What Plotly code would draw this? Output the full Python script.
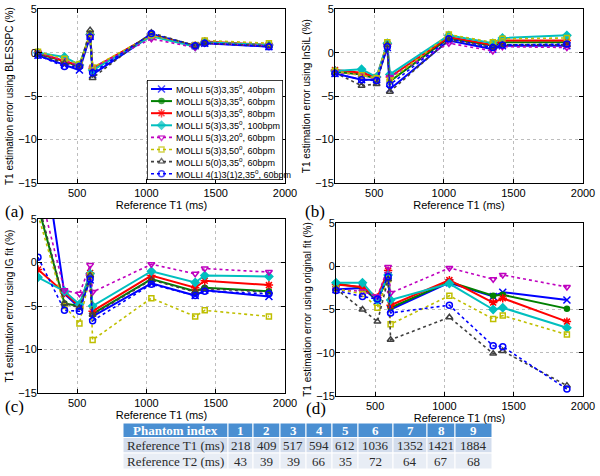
import plotly.graph_objects as go

# ---------------- data ----------------
T1_ref = [218, 409, 517, 594, 612, 1036, 1352, 1421, 1884]
T2_ref = [43, 39, 39, 66, 35, 72, 64, 67, 68]
phantom_index = [1, 2, 3, 4, 5, 6, 7, 8, 9]
table_row_labels = ["Reference T1 (ms)", "Reference T2 (ms)"]
table_header_label = "Phantom index"

series_names = [
    "MOLLI 5(3)3,35<sup>o</sup>, 40bpm",
    "MOLLI 5(3)3,35<sup>o</sup>, 60bpm",
    "MOLLI 5(3)3,35<sup>o</sup>, 80bpm",
    "MOLLI 5(3)3,35<sup>o</sup>, 100bpm",
    "MOLLI 5(3)3,20<sup>o</sup>, 60bpm",
    "MOLLI 5(3)3,50<sup>o</sup>, 60bpm",
    "MOLLI 5(0)3,35<sup>o</sup>, 60bpm",
    "MOLLI 4(1)3(1)2,35<sup>o</sup>, 60bpm",
]

# (a) BLESSPC
err_blesspc = [
    [-0.3, -1.4, -2.0, 1.9, -2.5, 2.0, 0.8, 1.1, 0.7],
    [-0.1, -1.0, -1.6, 2.0, -2.0, 2.1, 0.8, 1.2, 0.8],
    [0.0, -1.0, -1.5, 2.1, -1.8, 2.0, 0.8, 1.3, 0.9],
    [0.0, -0.5, -1.4, 2.1, -2.0, 1.9, 0.7, 1.2, 0.9],
    [0.0, -0.9, -1.5, 1.9, -1.7, 1.6, 0.6, 1.1, 0.8],
    [0.1, -0.7, -1.3, 2.2, -1.7, 2.0, 0.9, 1.4, 1.1],
    [-0.2, -1.2, -1.6, 2.6, -2.9, 2.3, 0.8, 1.1, 0.8],
    [-0.3, -1.6, -1.6, 1.8, -2.3, 2.2, 0.8, 1.1, 0.7],
]
# (b) InSiL
err_insil = [
    [-2.4, -3.1, -3.1, 0.6, -4.2, 1.4, 0.4, 0.8, 0.8],
    [-2.2, -2.5, -3.0, 0.9, -3.3, 1.7, 0.8, 1.2, 1.2],
    [-2.0, -2.3, -2.8, 1.0, -2.8, 1.8, 0.9, 1.4, 1.4],
    [-2.1, -1.9, -2.8, 1.1, -2.5, 2.0, 1.1, 1.7, 2.0],
    [-2.2, -2.6, -3.0, 0.8, -2.8, 1.1, 0.2, 0.7, 0.6],
    [-2.1, -2.6, -2.9, 1.2, -3.2, 2.1, 1.2, 1.6, 1.7],
    [-2.3, -3.8, -3.6, 0.9, -4.5, 1.5, 0.6, 0.9, 0.9],
    [-2.4, -3.1, -3.2, 0.7, -3.7, 1.6, 0.6, 0.9, 1.0],
]
# (c) IG fit
err_igfit = [
    [17.0, -3.6, -5.2, -2.0, -6.2, -2.4, -3.8, -3.2, -3.9],
    [6.5, -4.7, -5.0, -1.5, -5.9, -1.9, -3.3, -2.9, -3.3],
    [-0.8, -3.5, -5.0, -1.2, -5.6, -1.5, -2.9, -2.1, -2.6],
    [-1.7, -3.3, -4.8, -1.3, -5.0, -1.0, -2.3, -1.5, -1.6],
    [9.0, -3.2, -3.6, -0.3, -3.4, -0.2, -1.3, -0.7, -1.1],
    [5.5, -5.0, -7.0, -1.5, -8.9, -4.1, -6.2, -5.5, -6.2],
    [7.0, -4.7, -5.2, -1.5, -6.0, -2.0, -3.4, -3.0, -3.4],
    [0.6, -5.5, -5.6, -1.9, -6.7, -2.5, -3.8, -3.3, -3.6],
]
# (d) original fit
err_original = [
    [-2.7, -2.5, -4.0, -1.1, -5.0, -1.9, -3.5, -3.0, -3.9],
    [-2.0, -2.5, -3.8, -1.3, -4.8, -1.8, -3.4, -3.3, -4.9],
    [-2.1, -2.4, -3.6, -0.5, -4.5, -1.6, -4.2, -3.7, -6.4],
    [-1.9, -1.9, -3.9, -1.0, -3.9, -2.0, -5.0, -4.8, -7.1],
    [-2.7, -2.9, -3.5, -0.1, -3.1, -0.2, -1.5, -1.0, -2.4],
    [-2.6, -3.2, -4.8, -1.5, -6.7, -3.4, -6.1, -5.7, -7.9],
    [-2.6, -5.0, -6.4, -1.5, -8.5, -5.9, -10.1, -9.8, -13.8],
    [-2.8, -3.5, -3.8, -1.2, -5.4, -4.5, -9.2, -9.3, -14.2],
]

panel_data = [err_blesspc, err_insil, err_igfit, err_original]
panel_ytitles = [
    "T1 estimation error using BLESSPC (%)",
    "T1 estimation error using InSiL (%)",
    "T1 estimation error using IG fit (%)",
    "T1 estimation error using original fit (%)",
]
panel_letters = ["(a)", "(b)", "(c)", "(d)"]
x_ticks = [500, 1000, 1500, 2000]
y_ticks = [-15, -10, -5, 0, 5]

# ---------------- styles ----------------
colors = ["#0000ff", "#008000", "#ff0000", "#00bfbf", "#bf00bf", "#bfbf00", "#404040", "#0000ff"]
dashes = ["solid", "solid", "solid", "solid", "dot", "dot", "dot", "dot"]
widths = [2, 2, 2, 2, 1.6, 1.6, 1.6, 1.6]
symbols = ["x-thin-open", "circle", "asterisk-open", "diamond", "triangle-down-open",
           "square-open", "triangle-up-open", "circle-open"]
msizes = [7, 5, 7, 6, 6, 5, 6, 6]

W, H = 600, 476
def fx(px):
    return px / W
def fy(py):
    return 1 - py / H

# plot boxes in pixels: (left, right, top, bottom)
boxes = [(38, 285, 9.3, 183), (335, 583, 9.3, 183), (38, 285, 219, 393), (336, 583, 223, 396)]
letter_pos = [(3, 211), (303, 211), (3, 406), (304, 408)]

FONT = "Liberation Sans, Arial, Helvetica, sans-serif"
SERIF = "Liberation Serif"

fig = go.Figure()
layout = dict(
    template="none",
    width=W, height=H, margin=dict(l=0, r=0, t=0, b=0, autoexpand=False),
    paper_bgcolor="white", plot_bgcolor="white",
    font=dict(family=FONT, size=11, color="black"),
    showlegend=False,
)

for p in range(4):
    ax = "" if p == 0 else str(p + 1)
    xa, ya = "x" + ax, "y" + ax
    l, r, t, b = boxes[p]
    layout["xaxis" + ax] = dict(
        domain=[fx(l), fx(r)], anchor=ya, range=[218, 2000], automargin=False,
        tickvals=x_ticks, ticks="inside", ticklen=4, tickcolor="black",
        showline=True, linecolor="black", linewidth=1, mirror="ticks",
        showgrid=True, gridcolor="#bdbdbd", griddash="dot", gridwidth=1,
        zeroline=False, tickfont=dict(size=11),
        title=dict(text="Reference T1 (ms)", font=dict(size=11), standoff=3),
    )
    layout["yaxis" + ax] = dict(
        domain=[fy(b), fy(t)], anchor=xa, range=[-15, 5], automargin=False,
        tickvals=y_ticks, ticks="inside", ticklen=4, tickcolor="black",
        showline=True, linecolor="black", linewidth=1, mirror="ticks",
        showgrid=True, gridcolor="#bdbdbd", griddash="dot", gridwidth=1,
        zeroline=False, tickfont=dict(size=11), ticklabelstandoff=-2,
        title=dict(text=panel_ytitles[p], font=dict(size=10), standoff=2),
    )
    for s in range(8):
        fig.add_trace(go.Scatter(
            x=T1_ref, y=panel_data[p][s], xaxis=xa, yaxis=ya,
            mode="lines+markers",
            line=dict(color=colors[s], width=widths[s], dash=dashes[s]),
            marker=dict(symbol=symbols[s], size=msizes[s], color=colors[s],
                        line=dict(color=colors[s], width=1.5)),
            cliponaxis=(p == 2), showlegend=False, hoverinfo="skip",
        ))

# ---------------- custom legend in panel (a) ----------------
lg_l, lg_r, lg_t, lg_b = 147, 283, 80, 180
layout["xaxis5"] = dict(domain=[fx(lg_l), fx(lg_r)], anchor="y5", range=[0, 136],
                        visible=False, fixedrange=True, automargin=False)
layout["yaxis5"] = dict(domain=[fy(lg_b), fy(lg_t)], anchor="x5", range=[100, 0],
                        visible=False, fixedrange=True, automargin=False)
fig.add_trace(go.Scatter(
    x=[0, 136, 136, 0, 0], y=[0, 0, 100, 100, 0], xaxis="x5", yaxis="y5",
    mode="lines", fill="toself", fillcolor="white",
    line=dict(color="black", width=1.5), cliponaxis=False, hoverinfo="skip",
))
annotations = []
for s in range(8):
    yy = 9 + 12.1 * s
    fig.add_trace(go.Scatter(
        x=[4, 14.5, 25], y=[yy, yy, yy], xaxis="x5", yaxis="y5",
        mode="lines+markers",
        line=dict(color=colors[s], width=widths[s], dash=dashes[s]),
        marker=dict(symbol=symbols[s], size=[0, msizes[s], 0], color=colors[s],
                    line=dict(color=colors[s], width=1.5)),
        hoverinfo="skip",
    ))
    annotations.append(dict(
        x=27, y=yy, xref="x5", yref="y5", text=series_names[s], showarrow=False,
        xanchor="left", yanchor="middle", font=dict(size=9, family=FONT),
    ))

for p in range(4):
    annotations.append(dict(
        x=fx(letter_pos[p][0]), y=fy(letter_pos[p][1]), xref="paper", yref="paper",
        text=panel_letters[p], showarrow=False, xanchor="left", yanchor="middle",
        font=dict(size=17, family=SERIF),
    ))

# ---------------- table (shapes + text) ----------------
col_edges = [123, 228, 253, 280, 306, 332, 358, 393, 427, 455, 492]
row_edges = [423, 437.5, 453, 469]
row_fills = ["#4a8fd2", "#d3dded", "#e8edf5"]
shapes = []
table_rows = [
    ["<b>%s</b>" % table_header_label] + ["<b>%d</b>" % i for i in phantom_index],
    [table_row_labels[0]] + [str(v) for v in T1_ref],
    [table_row_labels[1]] + [str(v) for v in T2_ref],
]
for ri in range(3):
    for ci in range(len(col_edges) - 1):
        shapes.append(dict(
            type="rect", xref="paper", yref="paper",
            x0=fx(col_edges[ci]), x1=fx(col_edges[ci + 1]),
            y0=fy(row_edges[ri + 1]), y1=fy(row_edges[ri]),
            fillcolor=row_fills[ri], line=dict(color="white", width=1), layer="below",
        ))
        annotations.append(dict(
            x=fx((col_edges[ci] + col_edges[ci + 1]) / 2),
            y=fy((row_edges[ri] + row_edges[ri + 1]) / 2),
            xref="paper", yref="paper", text=table_rows[ri][ci], showarrow=False,
            xanchor="center", yanchor="middle",
            font=dict(family=SERIF, size=13,
                      color="white" if ri == 0 else "#2a2a2a"),
        ))

layout["annotations"] = annotations
layout["shapes"] = shapes

fig.update_layout(**layout)
fig.write_html("out.html", config={"displayModeBar": False},
               post_script="document.body.style.margin='0';document.body.style.padding='0';")
